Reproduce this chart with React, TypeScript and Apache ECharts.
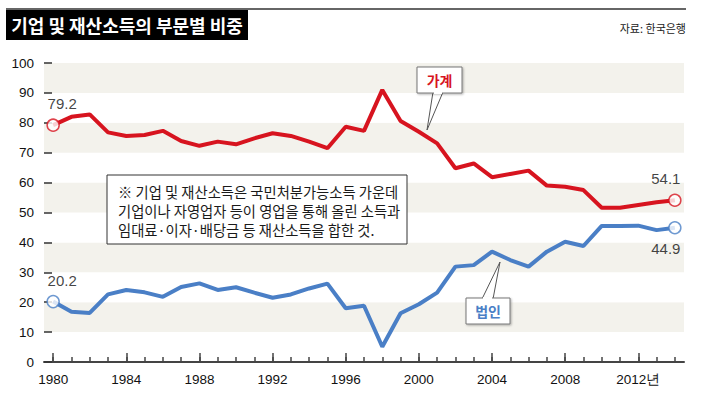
import React, { useEffect, useRef } from "react";
import * as echarts from "echarts";

const years = [
  "1980", "1981", "1982", "1983", "1984", "1985", "1986", "1987", "1988", "1989",
  "1990", "1991", "1992", "1993", "1994", "1995", "1996", "1997", "1998", "1999",
  "2000", "2001", "2002", "2003", "2004", "2005", "2006", "2007", "2008", "2009",
  "2010", "2011", "2012", "2013", "2014",
];

// 가계 (households)
const household = [
  79.2, 82.0, 82.8, 76.8, 75.6, 75.9, 77.3, 73.9, 72.3, 73.7,
  72.8, 74.8, 76.5, 75.6, 73.7, 71.5, 78.7, 77.3, 91.0, 80.6,
  77.0, 73.1, 64.8, 66.4, 61.8, 62.9, 64.0, 59.0, 58.6, 57.5,
  51.6, 51.6, 52.5, 53.4, 54.1,
];

// 법인 (corporations)
const corporate = [
  20.2, 16.8, 16.4, 22.6, 24.1, 23.3, 21.8, 25.1, 26.3, 24.1,
  25.0, 23.2, 21.5, 22.6, 24.6, 26.2, 18.0, 18.8, 5.1, 16.3,
  19.3, 23.2, 31.9, 32.4, 36.9, 34.1, 31.9, 36.9, 40.2, 38.8,
  45.5, 45.5, 45.6, 44.1, 44.9,
];

const yTicks = [0, 10, 20, 30, 40, 50, 60, 70, 80, 90, 100];

const title = "기업 및 재산소득의 부문별 비중";
const source = "자료: 한국은행";
const noteLines = [
  "※ 기업 및 재산소득은 국민처분가능소득 가운데",
  "기업이나 자영업자 등이 영업을 통해 올린 소득과",
  "임대료·이자·배당금 등 재산소득을 합한 것.",
];
const householdName = "가계";
const corporateName = "법인";

const RED = "#d7141f";
const BLUE = "#4a7fc6";
const KR = "'Noto Sans CJK KR', 'Noto Sans', sans-serif";
const NUM = "'Liberation Sans', Arial, sans-serif";

export default function App() {
  const ref = useRef<HTMLDivElement>(null);

  useEffect(() => {
    document.body.style.margin = "0";
    if (!ref.current) return;
    const chart = echarts.init(ref.current, undefined, { renderer: "svg" });
    const last = years.length - 1;

    const endLabel = {
      color: "#111",
      fontSize: 15,
      fontFamily: NUM,
      formatter: (p: any) => p.value[1].toFixed(1),
    };

    const option: any = {
      animation: false,
      backgroundColor: "#ffffff",
      grid: { left: 44, right: 18, top: 63, bottom: 36 },
      xAxis: [
        {
          type: "category",
          data: years,
          position: "bottom",
          boundaryGap: true,
          axisLine: { show: true, lineStyle: { color: "#444", width: 2 } },
          axisTick: {
            show: true,
            inside: true,
            alignWithLabel: true,
            interval: 0,
            length: 5,
            lineStyle: { color: "#444", width: 1.5 },
          },
          axisLabel: {
            interval: 3,
            margin: 10,
            color: "#111",
            fontSize: 13.5,
            fontFamily: NUM,
            formatter: (v: string) => (v === "2012" ? v + "년" : v),
          },
          splitLine: { show: false },
        },
        {
          type: "category",
          data: years,
          position: "bottom",
          offset: 0,
          boundaryGap: true,
          axisLine: { show: false },
          axisTick: {
            show: true,
            inside: true,
            alignWithLabel: true,
            interval: 3,
            length: 9,
            lineStyle: { color: "#444", width: 1.5 },
          },
          axisLabel: { show: false },
          splitLine: { show: false },
        },
      ],
      yAxis: {
        type: "value",
        min: yTicks[0],
        max: yTicks[yTicks.length - 1],
        interval: 10,
        axisLine: { show: false },
        axisTick: { show: true, inside: true, length: 8, lineStyle: { color: "#333", width: 1.5 } },
        axisLabel: { color: "#111", fontSize: 13.5, fontFamily: NUM, margin: 10 },
        splitLine: { show: false },
        splitArea: { show: true, areaStyle: { color: ["#ffffff", "#f3f2ec"] } },
      },
      series: [
        {
          name: householdName,
          type: "line",
          data: household,
          symbol: "none",
          lineStyle: { color: RED, width: 4 },
          z: 3,
        },
        {
          name: corporateName,
          type: "line",
          data: corporate,
          symbol: "none",
          lineStyle: { color: BLUE, width: 4 },
          z: 3,
        },
        {
          type: "scatter",
          xAxisIndex: 0,
          symbol: "circle",
          symbolSize: 12,
          itemStyle: { color: "#fff", borderColor: RED, borderWidth: 1.5 },
          z: 5,
          data: [
            { value: [years[0], household[0]], label: { show: true, position: "top", offset: [9, -2] } },
            { value: [years[last], household[last]], label: { show: true, position: "top", offset: [-9, -2] } },
          ],
          label: endLabel,
        },
        {
          type: "scatter",
          xAxisIndex: 0,
          symbol: "circle",
          symbolSize: 12,
          itemStyle: { color: "#fff", borderColor: BLUE, borderWidth: 1.5 },
          z: 5,
          data: [
            { value: [years[0], corporate[0]], label: { show: true, position: "top", offset: [9, -2] } },
            { value: [years[last], corporate[last]], label: { show: true, position: "bottom", offset: [-9, 2] } },
          ],
          label: endLabel,
        },
      ],
      graphic: [
        { type: "line", shape: { x1: 6, y1: 9, x2: 686, y2: 9 }, style: { stroke: "#666", lineWidth: 2 } },
        { type: "rect", shape: { x: 6, y: 10, width: 242, height: 30 }, style: { fill: "#000" } },
        {
          type: "text",
          x: 127,
          y: 25,
          style: {
            text: title,
            fill: "#fff",
            font: `bold 18px ${KR}`,
            align: "center",
            verticalAlign: "middle",
          },
        },
        {
          type: "text",
          x: 686,
          y: 28,
          style: { text: source, fill: "#222", font: `11px ${KR}`, align: "right", verticalAlign: "middle" },
        },
        // note box
        {
          type: "rect",
          shape: { x: 107, y: 175, width: 300, height: 69 },
          style: { fill: "#fff", stroke: "#333", lineWidth: 1 },
          z: 10,
        },
        ...noteLines.map((t, i) => ({
          type: "text",
          x: 118,
          y: 191 + i * 19,
          z: 11,
          style: { text: t, fill: "#1a1a1a", font: `14.3px ${KR}`, align: "left", verticalAlign: "middle" },
        })),
        // 가계 callout
        {
          type: "polygon",
          shape: { points: [[433, 92], [427, 130], [443, 92]] },
          style: { fill: "#fff", stroke: "#555", lineWidth: 1 },
          z: 10,
        },
        {
          type: "rect",
          shape: { x: 417, y: 67, width: 45, height: 26 },
          style: { fill: "#fff", stroke: "#777", lineWidth: 1, shadowBlur: 2, shadowColor: "rgba(0,0,0,0.3)", shadowOffsetX: 1, shadowOffsetY: 1 },
          z: 10,
        },
        { type: "line", shape: { x1: 434, y1: 93, x2: 442, y2: 93 }, style: { stroke: "#fff", lineWidth: 2 }, z: 11 },
        {
          type: "text",
          x: 439.5,
          y: 80,
          z: 12,
          style: { text: householdName, fill: RED, font: `bold 14px ${KR}`, align: "center", verticalAlign: "middle" },
        },
        // 법인 callout
        {
          type: "polygon",
          shape: { points: [[482, 299], [500, 262], [493, 299]] },
          style: { fill: "#fff", stroke: "#555", lineWidth: 1 },
          z: 10,
        },
        {
          type: "rect",
          shape: { x: 466, y: 298, width: 44, height: 26 },
          style: { fill: "#fff", stroke: "#777", lineWidth: 1, shadowBlur: 2, shadowColor: "rgba(0,0,0,0.3)", shadowOffsetX: 1, shadowOffsetY: 1 },
          z: 10,
        },
        { type: "line", shape: { x1: 483, y1: 298, x2: 492, y2: 298 }, style: { stroke: "#fff", lineWidth: 2 }, z: 11 },
        {
          type: "text",
          x: 488,
          y: 311,
          z: 12,
          style: { text: corporateName, fill: BLUE, font: `bold 14px ${KR}`, align: "center", verticalAlign: "middle" },
        },
      ],
    };

    chart.setOption(option);
    return () => chart.dispose();
  }, []);

  return <div ref={ref} style={{ width: 702, height: 398 }} />;
}
